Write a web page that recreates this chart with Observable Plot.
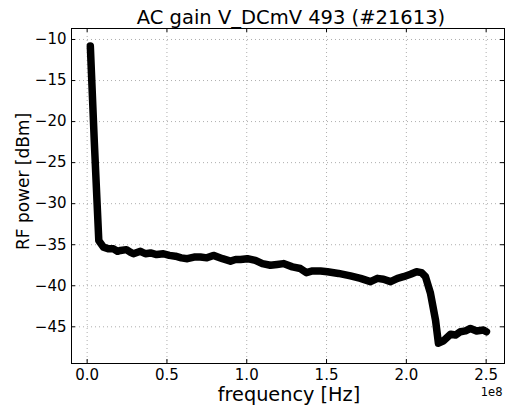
<!DOCTYPE html>
<html><head><meta charset="utf-8">
<script src="https://cdn.jsdelivr.net/npm/d3@7"></script>
<script src="https://cdn.jsdelivr.net/npm/@observablehq/plot@0.6"></script>
<style>
body{margin:0;background:#fff;}
#wrap{position:relative;width:506px;height:408px;}
</style></head><body><div id="wrap"></div>
<script>
const titleText = "AC gain V_DCmV 493 (#21613)";
const xLabel = "frequency [Hz]";
const yLabel = "RF power [dBm]";
const offsetLabel = "1e8";
const freqMHz = [2.0, 4.5, 7.3, 10.2, 13.5, 16.5, 19.0, 20.9, 24.6, 27.0, 29.0, 33.4, 36.5, 39.7, 43.5, 47.8, 51.5, 55.3, 59.0, 62.8, 67.0, 71.0, 75.0, 79.1, 84.8, 89.8, 93.0, 96.1, 100.4, 105.4, 109.8, 114.8, 119.0, 123.0, 128.6, 133.6, 137.4, 141.2, 146.2, 150.6, 157.5, 165.0, 171.3, 177.5, 181.9, 185.7, 190.1, 194.5, 198.2, 202.6, 206.4, 209.5, 212.0, 215.1, 218.3, 220.1, 223.3, 227.7, 230.8, 233.9, 237.1, 240.2, 244.0, 248.3, 250.2];
const powerDbm = [-10.8, -22.5, -34.5, -35.3, -35.5, -35.5, -35.8, -35.7, -35.6, -35.9, -36.1, -35.8, -36.1, -36.0, -36.2, -36.1, -36.3, -36.4, -36.6, -36.7, -36.5, -36.5, -36.6, -36.3, -36.7, -37.0, -36.8, -36.8, -36.7, -36.9, -37.3, -37.5, -37.4, -37.3, -37.7, -37.9, -38.4, -38.2, -38.2, -38.3, -38.5, -38.8, -39.1, -39.5, -39.1, -39.2, -39.5, -39.1, -38.9, -38.6, -38.3, -38.4, -38.9, -40.9, -44.2, -47.0, -46.7, -45.9, -46.0, -45.6, -45.5, -45.2, -45.5, -45.4, -45.6];
const xTicks = [0, 0.5e8, 1.0e8, 1.5e8, 2.0e8, 2.5e8];
const yTicks = [-10, -15, -20, -25, -30, -35, -40, -45];

const data = freqMHz.map((f, i) => ({f: f * 1e6, p: powerDbm[i]}));
const W = 506, H = 408, mL = 71, mR = 2, mT = 28, mB = 45;
const fw = W - mL - mR, fh = H - mT - mB;
const font = "DejaVu Sans";

const chart = Plot.plot({
  width: W, height: H,
  marginLeft: mL, marginRight: mR, marginTop: mT, marginBottom: mB,
  style: {fontFamily: font, fontSize: "15px", color: "#000", background: "#fff", overflow: "visible"},
  x: {domain: [-9.8e6, 2.615e8], ticks: xTicks, tickFormat: d => (d / 1e8).toFixed(1), tickSize: 0, tickPadding: 6, label: null},
  y: {domain: [-49.47, -8.66], ticks: yTicks, tickFormat: d => String(d).replace("-", "\u2212"), tickSize: 0, tickPadding: 5, label: null},
  marks: [
    Plot.ruleX(xTicks, {x: d => d, stroke: "#999", strokeWidth: 0.8, strokeDasharray: "1,3"}),
    Plot.ruleY(yTicks, {y: d => d, stroke: "#999", strokeWidth: 0.8, strokeDasharray: "1,3"}),
    Plot.ruleX(xTicks, {x: d => d, insetTop: fh - 4, stroke: "#000"}),
    Plot.ruleX(xTicks, {x: d => d, insetBottom: fh - 4, stroke: "#000"}),
    Plot.ruleY(yTicks, {y: d => d, insetRight: fw - 4, stroke: "#000"}),
    Plot.ruleY(yTicks, {y: d => d, insetLeft: fw - 4, stroke: "#000"}),
    Plot.line(data, {x: "f", y: "p", stroke: "#000", strokeWidth: 7.5, strokeLinejoin: "round", strokeLinecap: "round"}),
    Plot.frame({stroke: "#000", strokeWidth: 1}),
    Plot.text([titleText], {frameAnchor: "top", lineAnchor: "bottom", textAnchor: "middle", dy: -5, dx: 3, fontSize: 19.5, fill: "#000"}),
    Plot.text([xLabel], {frameAnchor: "bottom", lineAnchor: "bottom", textAnchor: "middle", dy: 37, dx: 1, fontSize: 19.3, fill: "#000"}),
    Plot.text([yLabel], {frameAnchor: "left", lineAnchor: "bottom", textAnchor: "middle", rotate: -90, dx: -43, dy: -14.5, fontSize: 17, fill: "#000"}),
    Plot.text([offsetLabel], {frameAnchor: "bottom-right", lineAnchor: "bottom", textAnchor: "end", dx: -2, dy: 32, fontSize: 11.5, fill: "#000"})
  ]
});
document.getElementById("wrap").appendChild(chart);
</script>
</body></html>
